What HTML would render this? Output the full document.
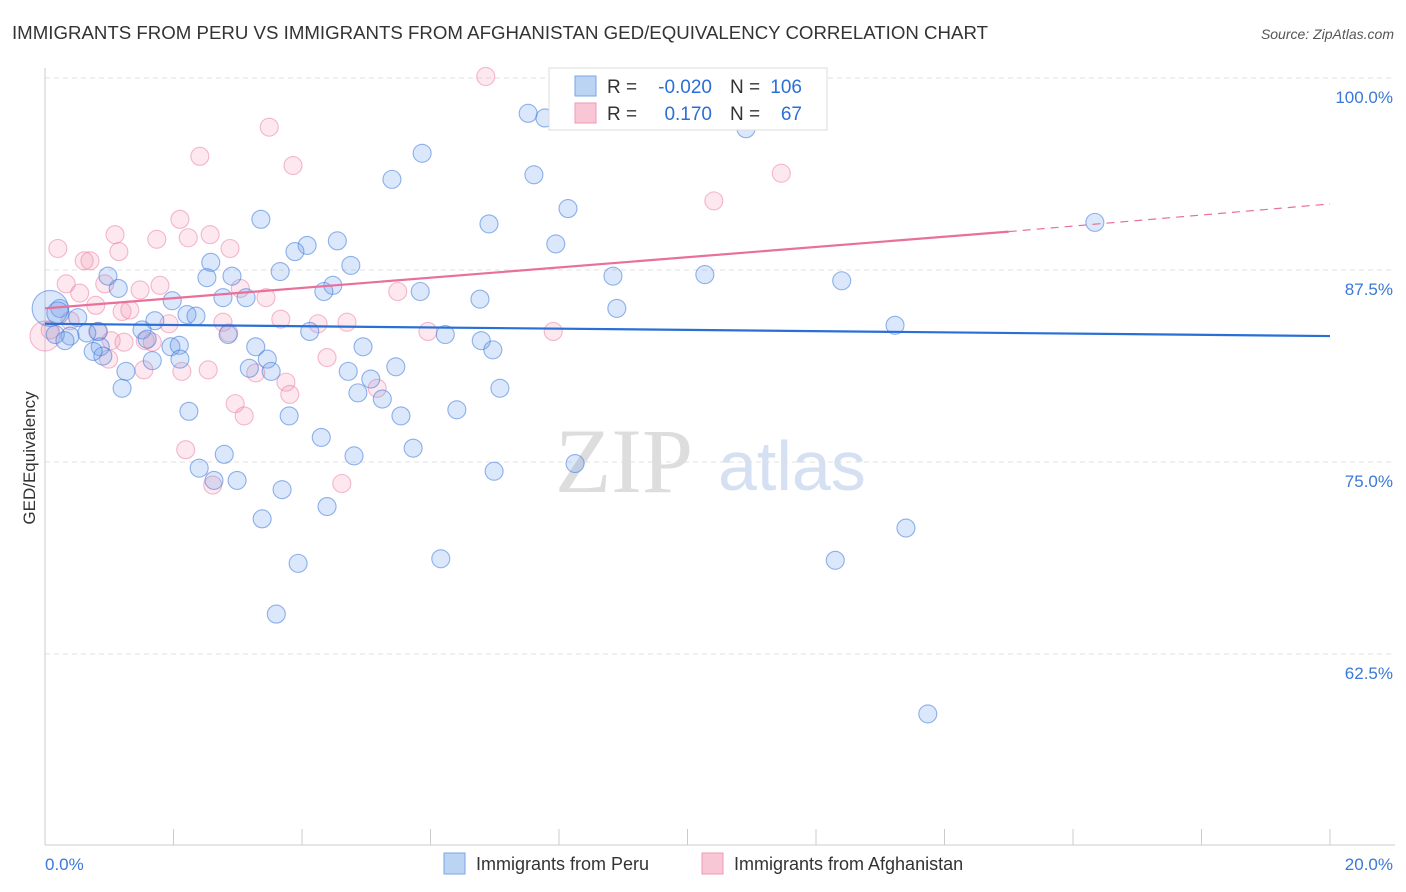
<!DOCTYPE html>
<html><head><meta charset="utf-8"><style>
body{margin:0;background:#fff;font-family:"Liberation Sans",sans-serif;}
svg{display:block}
</style></head><body>
<svg id="c" width="1406" height="892">
<text x="12" y="39" font-size="18" fill="#333" textLength="976" lengthAdjust="spacingAndGlyphs">IMMIGRANTS FROM PERU VS IMMIGRANTS FROM AFGHANISTAN GED/EQUIVALENCY CORRELATION CHART</text>
<text x="1394" y="39" font-size="14" fill="#555" font-style="italic" text-anchor="end">Source: ZipAtlas.com</text>
<text x="35" y="458" font-size="17" fill="#333" text-anchor="middle" transform="rotate(-90 35 458)">GED/Equivalency</text>
<text x="555" y="492" font-size="92" fill="#ddd" font-family="Liberation Serif,serif">ZIP</text>
<text x="718" y="490" font-size="70" fill="#d5e0f2">atlas</text>
<g id="grid"></g><g id="pts"></g><g id="lines"></g>
<g>
<rect x="549" y="68" width="278" height="62" fill="#fff" stroke="#ddd"/>
<rect x="575" y="76" width="21" height="20" fill="#bcd4f4" stroke="#7aa6e6"/>
<rect x="575" y="103" width="21" height="20" fill="#f9c6d6" stroke="#ee9ab5"/>
<text x="607" y="93" font-size="19" fill="#333">R =</text>
<text x="712" y="93" font-size="19" fill="#2a6fd6" text-anchor="end">-0.020</text>
<text x="730" y="93" font-size="19" fill="#333">N =</text>
<text x="802" y="93" font-size="19" fill="#2a6fd6" text-anchor="end">106</text>
<text x="607" y="120" font-size="19" fill="#333">R =</text>
<text x="712" y="120" font-size="19" fill="#2a6fd6" text-anchor="end">0.170</text>
<text x="730" y="120" font-size="19" fill="#333">N =</text>
<text x="802" y="120" font-size="19" fill="#2a6fd6" text-anchor="end">67</text>
</g>
<g>
<rect x="444" y="853" width="21" height="21" fill="#bcd4f4" stroke="#7aa6e6"/>
<text x="476" y="870" font-size="18" fill="#333">Immigrants from Peru</text>
<rect x="702" y="853" width="21" height="21" fill="#f9c6d6" stroke="#ee9ab5"/>
<text x="734" y="870" font-size="18" fill="#333">Immigrants from Afghanistan</text>
</g>
</svg>
<script>
const yTicks=[100,87.5,75,62.5];
const yTickLabels=["100.0%","87.5%","75.0%","62.5%"];
const xTickLabels=["0.0%","20.0%"];
const peruX=[7.52,7.78,9.57,10.91,5.87,5.40,7.61,8.14,3.36,6.91,16.34,4.55,4.08,3.89,7.95,4.76,2.58,3.66,0.98,2.52,2.91,8.84,10.27,12.40,1.14,4.48,4.34,5.84,6.77,2.77,3.13,1.98,8.90,0.23,0.51,2.21,2.35,1.71,4.12,6.23,13.23,1.51,0.83,0.65,0.39,0.16,0.31,1.59,2.85,1.96,3.28,4.95,6.79,6.97,0.86,0.90,0.75,2.09,1.67,3.46,2.10,3.18,3.52,4.72,5.46,1.26,5.07,1.20,4.87,5.25,7.08,2.24,3.80,6.41,5.54,4.30,2.79,4.81,5.73,2.40,2.63,2.99,6.99,8.25,3.69,4.39,3.38,13.40,3.94,6.16,12.30,3.60,13.74,0.08,0.20];
const peruY=[97.7,97.4,97.8,96.7,95.1,93.4,93.7,91.5,90.8,90.5,90.6,89.4,89.1,88.7,89.2,87.8,88.0,87.4,87.1,87.0,87.1,87.1,87.2,86.8,86.3,86.5,86.1,86.1,85.6,85.7,85.7,85.5,85.0,85.0,84.4,84.6,84.5,84.2,83.5,83.3,83.9,83.6,83.5,83.4,83.2,83.3,82.9,83.0,83.3,82.5,82.5,82.5,82.9,82.3,82.5,81.9,82.2,82.6,81.6,81.7,81.7,81.1,80.9,80.9,81.2,80.9,80.4,79.8,79.5,79.1,79.8,78.3,78.0,78.4,78.0,76.6,75.5,75.4,75.9,74.6,73.8,73.8,74.4,74.9,73.2,72.1,71.3,70.7,68.4,68.7,68.6,65.1,58.6,85.0,84.7];
const afgX=[6.86,3.49,2.41,3.86,11.46,10.41,2.10,2.57,1.74,2.23,2.88,0.20,1.09,0.61,0.70,1.15,0.33,0.54,0.93,1.48,1.79,3.04,3.44,5.49,0.79,1.20,1.32,3.67,4.25,2.77,1.93,4.70,5.96,7.91,0.82,2.86,0.08,0.39,1.03,1.56,1.23,1.67,0.99,1.54,2.13,2.54,3.28,4.39,3.75,3.81,5.17,2.96,3.10,2.19,2.61,4.62,0.0];
const afgY=[100.1,96.8,94.9,94.3,93.8,92.0,90.8,89.8,89.5,89.6,88.9,88.9,89.8,88.1,88.1,88.7,86.6,86.0,86.6,86.2,86.5,86.3,85.7,86.1,85.2,84.8,84.9,84.3,84.0,84.1,84.0,84.1,83.5,83.5,83.5,83.4,83.6,84.2,82.9,82.9,82.8,82.8,81.7,81.0,80.9,81.0,80.8,81.8,80.2,79.4,79.8,78.8,78.0,75.8,73.5,73.6,83.2];
const peruLine=[84.0,83.2];
const afgLine=[85.0,90.0,91.8];
const X=v=>45+v*64.25, Y=v=>78+(100-v)*15.36;
const NS="http://www.w3.org/2000/svg";
function mk(t,a,p){const e=document.createElementNS(NS,t);for(const k in a)e.setAttribute(k,a[k]);p.appendChild(e);return e;}
const grid=document.getElementById('grid');
yTicks.forEach((t,i)=>{
 const l=mk('line',{x1:45,x2:1395,y1:Y(t),y2:Y(t),stroke:'#e0e0e0','stroke-dasharray':'5,4'},grid);
 
 
 const tx=mk('text',{x:1393,y:Y(t)+25,'font-size':17,fill:'#3b78d8','text-anchor':'end'},grid);
 tx.textContent=yTickLabels[i];
 
 
});
const ax=mk('line',{x1:45,x2:1395,y1:845,y2:845,stroke:'#ccc'},grid);


const ay=mk('line',{x1:45,x2:45,y1:68,y2:845,stroke:'#ccc'},grid);


for(let i=0;i<=10;i++){const t=mk('line',{x1:X(i*2),x2:X(i*2),y1:829,y2:845,stroke:'#ccc'},grid);
 
 }
xTickLabels.forEach((s,i)=>{const t=mk('text',{x:i?1393:45,y:870,'font-size':17,fill:'#3b78d8','text-anchor':i?'end':'start'},grid);t.textContent=s;
 
 });
const pts=document.getElementById('pts');
afgX.forEach((x,i)=>{const c=mk('circle',{cx:X(x),cy:Y(afgY[i]),r:i==afgX.length-1?15:9,fill:'rgba(242,140,170,0.2)',stroke:'rgba(236,130,165,0.55)','stroke-width':1.1},pts);
 
 });
peruX.forEach((x,i)=>{const c=mk('circle',{cx:X(x),cy:Y(peruY[i]),r:i>=peruX.length-2?(i==peruX.length-2?18:11):9,fill:'rgba(110,160,235,0.25)',stroke:'rgba(60,120,220,0.55)','stroke-width':1.1},pts);
 
 });
const lines=document.getElementById('lines');
const pl=mk('line',{x1:X(0),y1:Y(peruLine[0]),x2:X(20),y2:Y(peruLine[1]),stroke:'#2a6fd6','stroke-width':2.2},lines);


const al=mk('line',{x1:X(0),y1:Y(afgLine[0]),x2:X(15),y2:Y(afgLine[1]),stroke:'#e8709a','stroke-width':2.2},lines);


const ad=mk('line',{x1:X(15),y1:Y(afgLine[1]),x2:X(20),y2:Y(afgLine[2]),stroke:'#e8709a','stroke-width':1.2,'stroke-dasharray':'8,6'},lines);


</script>
</body></html>
